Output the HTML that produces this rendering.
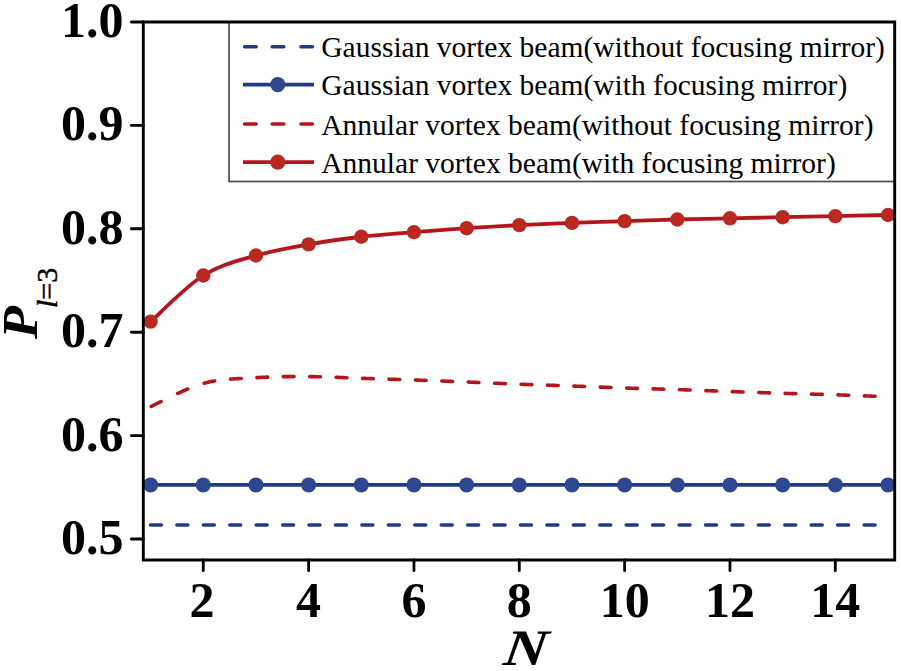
<!DOCTYPE html>
<html><head><meta charset="utf-8"><style>html,body{margin:0;padding:0;background:#fff;width:901px;height:671px;overflow:hidden}svg{display:block}</style></head>
<body><svg width="901" height="671" viewBox="0 0 901 671">
<rect width="901" height="671" fill="#fff"/>
<path d="M150.50 525.0h10.9 M176.93 525.0h10.9 M203.36 525.0h10.9 M229.79 525.0h10.9 M256.22 525.0h10.9 M282.65 525.0h10.9 M309.08 525.0h10.9 M335.51 525.0h10.9 M361.94 525.0h10.9 M388.37 525.0h10.9 M414.80 525.0h10.9 M441.23 525.0h10.9 M467.66 525.0h10.9 M494.09 525.0h10.9 M520.52 525.0h10.9 M546.95 525.0h10.9 M573.38 525.0h10.9 M599.81 525.0h10.9 M626.24 525.0h10.9 M652.67 525.0h10.9 M679.10 525.0h10.9 M705.53 525.0h10.9 M731.96 525.0h10.9 M758.39 525.0h10.9 M784.82 525.0h10.9 M811.25 525.0h10.9 M837.68 525.0h10.9 M864.11 525.0h10.9" stroke="rgb(34,58,138)" stroke-width="3.6" fill="none" stroke-linecap="round"/>
<path d="M150.60 484.9 L887.98 484.9" stroke="rgb(34,58,138)" stroke-width="3.8" fill="none"/>
<circle cx="150.60" cy="484.9" r="7.5"  fill="rgb(45,72,145)"/>
<circle cx="203.27" cy="484.9" r="7.5"  fill="rgb(45,72,145)"/>
<circle cx="255.94" cy="484.9" r="7.5"  fill="rgb(45,72,145)"/>
<circle cx="308.61" cy="484.9" r="7.5"  fill="rgb(45,72,145)"/>
<circle cx="361.28" cy="484.9" r="7.5"  fill="rgb(45,72,145)"/>
<circle cx="413.95" cy="484.9" r="7.5"  fill="rgb(45,72,145)"/>
<circle cx="466.62" cy="484.9" r="7.5"  fill="rgb(45,72,145)"/>
<circle cx="519.29" cy="484.9" r="7.5"  fill="rgb(45,72,145)"/>
<circle cx="571.96" cy="484.9" r="7.5"  fill="rgb(45,72,145)"/>
<circle cx="624.63" cy="484.9" r="7.5"  fill="rgb(45,72,145)"/>
<circle cx="677.30" cy="484.9" r="7.5"  fill="rgb(45,72,145)"/>
<circle cx="729.97" cy="484.9" r="7.5"  fill="rgb(45,72,145)"/>
<circle cx="782.64" cy="484.9" r="7.5"  fill="rgb(45,72,145)"/>
<circle cx="835.31" cy="484.9" r="7.5"  fill="rgb(45,72,145)"/>
<circle cx="887.98" cy="484.9" r="7.5"  fill="rgb(45,72,145)"/>
<path d="M151.30 406.38 L152.30 405.92 L153.30 405.44 L154.30 404.96 L155.30 404.47 L156.30 403.98 L157.30 403.48 L158.30 402.98 L159.30 402.48 L160.30 401.98 L161.05 401.61 M177.71 393.48 L178.71 393.02 L179.71 392.55 L180.71 392.10 L181.71 391.64 L182.71 391.19 L183.71 390.75 L184.71 390.31 L185.71 389.87 L186.71 389.44 L187.71 389.02 L187.71 389.02 M204.12 383.17 L205.12 382.91 L206.12 382.66 L207.12 382.42 L208.12 382.19 L209.12 381.97 L210.12 381.76 L211.12 381.56 L212.12 381.36 L213.12 381.18 L214.12 381.01 L214.62 380.92 M230.53 379.09 L231.53 379.02 L232.53 378.95 L233.53 378.89 L234.53 378.82 L235.53 378.77 L236.53 378.71 L237.53 378.65 L238.53 378.60 L239.53 378.55 L240.53 378.50 L241.28 378.46 M256.94 377.64 L257.94 377.58 L258.94 377.52 L259.94 377.46 L260.94 377.41 L261.94 377.35 L262.94 377.30 L263.94 377.25 L264.94 377.21 L265.94 377.16 L266.94 377.12 L267.69 377.09 M283.35 376.67 L284.35 376.66 L285.35 376.64 L286.35 376.63 L287.35 376.62 L288.35 376.61 L289.35 376.60 L290.35 376.59 L291.35 376.59 L292.35 376.58 L293.35 376.58 L294.10 376.57 M309.76 376.61 L310.76 376.62 L311.76 376.63 L312.76 376.64 L313.76 376.65 L314.76 376.67 L315.76 376.69 L316.76 376.71 L317.76 376.73 L318.76 376.75 L319.76 376.78 L320.51 376.79 M336.17 377.32 L337.17 377.36 L338.17 377.40 L339.17 377.44 L340.17 377.48 L341.17 377.52 L342.17 377.57 L343.17 377.61 L344.17 377.65 L345.17 377.69 L346.17 377.73 L346.92 377.76 M362.58 378.34 L363.58 378.37 L364.58 378.41 L365.58 378.44 L366.58 378.47 L367.58 378.50 L368.58 378.53 L369.58 378.56 L370.58 378.60 L371.58 378.63 L372.58 378.66 L373.33 378.68 M388.99 379.17 L389.99 379.21 L390.99 379.24 L391.99 379.27 L392.99 379.30 L393.99 379.33 L394.99 379.37 L395.99 379.40 L396.99 379.43 L397.99 379.46 L398.99 379.50 L399.74 379.52 M415.40 380.05 L416.40 380.09 L417.40 380.12 L418.40 380.16 L419.40 380.19 L420.40 380.23 L421.40 380.27 L422.40 380.30 L423.40 380.34 L424.40 380.37 L425.40 380.41 L426.15 380.44 M441.81 381.03 L442.81 381.07 L443.81 381.10 L444.81 381.14 L445.81 381.18 L446.81 381.22 L447.81 381.26 L448.81 381.30 L449.81 381.34 L450.81 381.38 L451.81 381.41 L452.56 381.44 M468.22 382.06 L469.22 382.10 L470.22 382.15 L471.22 382.19 L472.22 382.23 L473.22 382.27 L474.22 382.31 L475.22 382.35 L476.22 382.39 L477.22 382.44 L478.22 382.48 L478.97 382.51 M494.63 383.18 L495.63 383.23 L496.63 383.27 L497.63 383.31 L498.63 383.36 L499.63 383.40 L500.63 383.44 L501.63 383.48 L502.63 383.53 L503.63 383.57 L504.63 383.61 L505.38 383.64 M521.04 384.27 L522.04 384.30 L523.04 384.34 L524.04 384.38 L525.04 384.41 L526.04 384.45 L527.04 384.48 L528.04 384.52 L529.04 384.55 L530.04 384.59 L531.04 384.62 L531.79 384.65 M547.45 385.17 L548.45 385.20 L549.45 385.24 L550.45 385.27 L551.45 385.30 L552.45 385.34 L553.45 385.37 L554.45 385.40 L555.45 385.43 L556.45 385.47 L557.45 385.50 L558.20 385.53 M573.86 386.07 L574.86 386.11 L575.86 386.14 L576.86 386.18 L577.86 386.22 L578.86 386.26 L579.86 386.29 L580.86 386.33 L581.86 386.37 L582.86 386.41 L583.86 386.45 L584.61 386.48 M600.27 387.09 L601.27 387.13 L602.27 387.17 L603.27 387.21 L604.27 387.25 L605.27 387.29 L606.27 387.32 L607.27 387.36 L608.27 387.40 L609.27 387.44 L610.27 387.48 L611.02 387.51 M626.68 388.07 L627.68 388.10 L628.68 388.14 L629.68 388.17 L630.68 388.20 L631.68 388.23 L632.68 388.26 L633.68 388.29 L634.68 388.33 L635.68 388.36 L636.68 388.39 L637.43 388.41 M653.09 388.87 L654.09 388.90 L655.09 388.92 L656.09 388.95 L657.09 388.98 L658.09 389.01 L659.09 389.04 L660.09 389.07 L661.09 389.10 L662.09 389.13 L663.09 389.16 L663.84 389.18 M679.50 389.67 L680.50 389.71 L681.50 389.74 L682.50 389.78 L683.50 389.81 L684.50 389.85 L685.50 389.88 L686.50 389.92 L687.50 389.95 L688.50 389.99 L689.50 390.02 L690.25 390.05 M705.91 390.62 L706.91 390.66 L707.91 390.70 L708.91 390.73 L709.91 390.77 L710.91 390.81 L711.91 390.84 L712.91 390.88 L713.91 390.92 L714.91 390.96 L715.91 390.99 L716.66 391.02 M732.32 391.58 L733.32 391.62 L734.32 391.65 L735.32 391.69 L736.32 391.72 L737.32 391.76 L738.32 391.79 L739.32 391.83 L740.32 391.86 L741.32 391.90 L742.32 391.94 L743.07 391.96 M758.73 392.51 L759.73 392.54 L760.73 392.58 L761.73 392.61 L762.73 392.65 L763.73 392.68 L764.73 392.71 L765.73 392.75 L766.73 392.78 L767.73 392.82 L768.73 392.85 L769.48 392.87 M785.14 393.38 L786.14 393.41 L787.14 393.44 L788.14 393.47 L789.14 393.50 L790.14 393.52 L791.14 393.55 L792.14 393.58 L793.14 393.61 L794.14 393.64 L795.14 393.67 L795.89 393.69 M811.55 394.11 L812.55 394.13 L813.55 394.16 L814.55 394.19 L815.55 394.21 L816.55 394.24 L817.55 394.27 L818.55 394.30 L819.55 394.32 L820.55 394.35 L821.55 394.38 L822.30 394.40 M837.96 394.89 L838.96 394.92 L839.96 394.96 L840.96 394.99 L841.96 395.03 L842.96 395.06 L843.96 395.10 L844.96 395.14 L845.96 395.17 L846.96 395.21 L847.96 395.25 L848.71 395.27 M864.37 395.87 L865.37 395.91 L866.37 395.95 L867.37 395.99 L868.37 396.03 L869.37 396.07 L870.37 396.11 L871.37 396.15 L872.37 396.19 L873.37 396.23 L874.37 396.26 L875.12 396.29" stroke="rgb(181,22,27)" stroke-width="3.6" fill="none" stroke-linecap="round" stroke-linejoin="round"/>
<path d="M150.60 321.60 C159.38 313.92 185.71 286.52 203.27 275.50 C220.83 264.48 238.38 260.68 255.94 255.50 C273.50 250.32 291.05 247.53 308.61 244.40 C326.17 241.28 343.72 238.80 361.28 236.75 C378.84 234.70 396.39 233.53 413.95 232.10 C431.51 230.67 449.06 229.37 466.62 228.20 C484.18 227.03 501.73 225.98 519.29 225.10 C536.85 224.22 554.40 223.57 571.96 222.90 C589.52 222.23 607.07 221.67 624.63 221.10 C642.19 220.53 659.74 219.97 677.30 219.50 C694.86 219.03 712.41 218.68 729.97 218.30 C747.53 217.92 765.08 217.57 782.64 217.20 C800.20 216.83 817.75 216.47 835.31 216.10 C852.87 215.73 879.20 215.18 887.98 215.00" stroke="rgb(181,22,27)" stroke-width="3.8" fill="none"/>
<circle cx="150.60" cy="321.6" r="7.2" fill="rgb(186,40,34)"/>
<circle cx="203.27" cy="275.5" r="7.2" fill="rgb(186,40,34)"/>
<circle cx="255.94" cy="255.5" r="7.2" fill="rgb(186,40,34)"/>
<circle cx="308.61" cy="244.4" r="7.2" fill="rgb(186,40,34)"/>
<circle cx="361.28" cy="236.75" r="7.2" fill="rgb(186,40,34)"/>
<circle cx="413.95" cy="232.1" r="7.2" fill="rgb(186,40,34)"/>
<circle cx="466.62" cy="228.2" r="7.2" fill="rgb(186,40,34)"/>
<circle cx="519.29" cy="225.1" r="7.2" fill="rgb(186,40,34)"/>
<circle cx="571.96" cy="222.9" r="7.2" fill="rgb(186,40,34)"/>
<circle cx="624.63" cy="221.1" r="7.2" fill="rgb(186,40,34)"/>
<circle cx="677.30" cy="219.5" r="7.2" fill="rgb(186,40,34)"/>
<circle cx="729.97" cy="218.3" r="7.2" fill="rgb(186,40,34)"/>
<circle cx="782.64" cy="217.2" r="7.2" fill="rgb(186,40,34)"/>
<circle cx="835.31" cy="216.1" r="7.2" fill="rgb(186,40,34)"/>
<circle cx="887.98" cy="215.0" r="7.2" fill="rgb(186,40,34)"/>
<rect x="229.05" y="22.0" width="665.65" height="159.5" fill="none" stroke="#4a4e52" stroke-width="1.7"/>
<path d="M244.6 46.7h11.6M272.2 46.7h11.6M301 46.7h11.4" stroke="rgb(34,58,138)" stroke-width="3.6" stroke-linecap="round" fill="none"/>
<text x="321.3" y="56.6" font-family="Liberation Serif" font-size="29.5" fill="#000">Gaussian vortex beam(without focusing mirror)</text>
<path d="M243 84.6 L314 84.6" stroke="rgb(34,58,138)" stroke-width="3.8" fill="none"/>
<circle cx="277.8" cy="84.6" r="7.6" fill="rgb(45,72,145)"/>
<text x="321.3" y="94.9" font-family="Liberation Serif" font-size="29.5" fill="#000">Gaussian vortex beam(with focusing mirror)</text>
<path d="M244.6 124.0h11.6M272.2 124.0h11.6M301 124.0h11.4" stroke="rgb(181,22,27)" stroke-width="3.6" stroke-linecap="round" fill="none"/>
<text x="321.3" y="134.5" font-family="Liberation Serif" font-size="29.5" fill="#000">Annular vortex beam(without focusing mirror)</text>
<path d="M243 162.2 L314 162.2" stroke="rgb(181,22,27)" stroke-width="3.8" fill="none"/>
<circle cx="277.8" cy="162.2" r="7.6" fill="rgb(186,40,34)"/>
<text x="321.3" y="172.8" font-family="Liberation Serif" font-size="29.5" fill="#000">Annular vortex beam(with focusing mirror)</text>
<path d="M143.3 22.0 L894.7 22.0 L894.7 560.0 L143.3 560.0 Z" fill="none" stroke="#000" stroke-width="2.9"/>
<line x1="131.4" y1="22.00" x2="143.3" y2="22.00" stroke="#000" stroke-width="2.9" stroke-linecap="round"/>
<text x="123.6" y="36.90" text-anchor="end" font-family="Liberation Serif" font-weight="bold" font-size="50">1.0</text>
<line x1="131.4" y1="125.40" x2="143.3" y2="125.40" stroke="#000" stroke-width="2.9" stroke-linecap="round"/>
<text x="123.6" y="140.30" text-anchor="end" font-family="Liberation Serif" font-weight="bold" font-size="50">0.9</text>
<line x1="131.4" y1="228.80" x2="143.3" y2="228.80" stroke="#000" stroke-width="2.9" stroke-linecap="round"/>
<text x="123.6" y="243.70" text-anchor="end" font-family="Liberation Serif" font-weight="bold" font-size="50">0.8</text>
<line x1="131.4" y1="332.20" x2="143.3" y2="332.20" stroke="#000" stroke-width="2.9" stroke-linecap="round"/>
<text x="123.6" y="347.10" text-anchor="end" font-family="Liberation Serif" font-weight="bold" font-size="50">0.7</text>
<line x1="131.4" y1="435.60" x2="143.3" y2="435.60" stroke="#000" stroke-width="2.9" stroke-linecap="round"/>
<text x="123.6" y="450.50" text-anchor="end" font-family="Liberation Serif" font-weight="bold" font-size="50">0.6</text>
<line x1="131.4" y1="539.00" x2="143.3" y2="539.00" stroke="#000" stroke-width="2.9" stroke-linecap="round"/>
<text x="123.6" y="553.90" text-anchor="end" font-family="Liberation Serif" font-weight="bold" font-size="50">0.5</text>
<line x1="203.27" y1="560.0" x2="203.27" y2="570.7" stroke="#000" stroke-width="2.8" stroke-linecap="round"/>
<text x="202.07" y="617.1" text-anchor="middle" font-family="Liberation Serif" font-weight="bold" font-size="50">2</text>
<line x1="308.61" y1="560.0" x2="308.61" y2="570.7" stroke="#000" stroke-width="2.8" stroke-linecap="round"/>
<text x="308.61" y="617.1" text-anchor="middle" font-family="Liberation Serif" font-weight="bold" font-size="50">4</text>
<line x1="413.95" y1="560.0" x2="413.95" y2="570.7" stroke="#000" stroke-width="2.8" stroke-linecap="round"/>
<text x="413.95" y="617.1" text-anchor="middle" font-family="Liberation Serif" font-weight="bold" font-size="50">6</text>
<line x1="519.29" y1="560.0" x2="519.29" y2="570.7" stroke="#000" stroke-width="2.8" stroke-linecap="round"/>
<text x="519.29" y="617.1" text-anchor="middle" font-family="Liberation Serif" font-weight="bold" font-size="50">8</text>
<line x1="624.63" y1="560.0" x2="624.63" y2="570.7" stroke="#000" stroke-width="2.8" stroke-linecap="round"/>
<text x="624.63" y="617.1" text-anchor="middle" font-family="Liberation Serif" font-weight="bold" font-size="50">10</text>
<line x1="729.97" y1="560.0" x2="729.97" y2="570.7" stroke="#000" stroke-width="2.8" stroke-linecap="round"/>
<text x="729.97" y="617.1" text-anchor="middle" font-family="Liberation Serif" font-weight="bold" font-size="50">12</text>
<line x1="835.31" y1="560.0" x2="835.31" y2="570.7" stroke="#000" stroke-width="2.8" stroke-linecap="round"/>
<text x="835.31" y="617.1" text-anchor="middle" font-family="Liberation Serif" font-weight="bold" font-size="50">14</text>
<text transform="translate(523.7 665.2) skewX(-8) scale(1.17 1)" text-anchor="middle" font-family="Liberation Serif" font-weight="bold" font-style="italic" font-size="51">N</text>
<g transform="translate(37.3 339) rotate(-90)"><text transform="scale(1.07 1)" x="0" y="0" font-family="Liberation Serif" font-weight="bold" font-style="italic" font-size="50.5">P</text><text x="31" y="19.3" font-family="Liberation Serif" font-style="italic" font-size="30" stroke="#000" stroke-width="0.45">l<tspan font-style="normal">=3</tspan></text></g>
</svg></body></html>
